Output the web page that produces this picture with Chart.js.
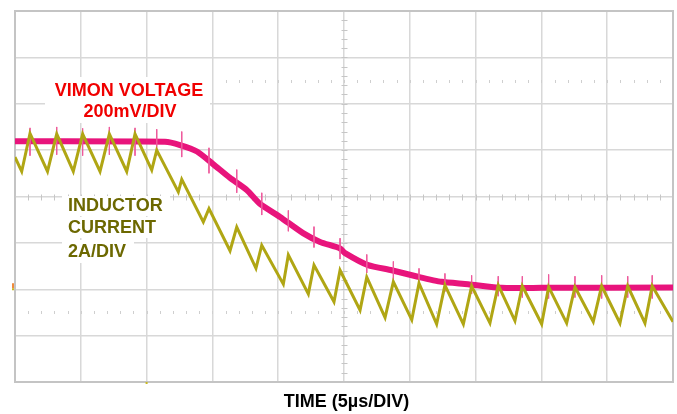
<!DOCTYPE html>
<html>
<head>
<meta charset="utf-8">
<script src="https://cdn.jsdelivr.net/npm/chart.js@4.4.1/dist/chart.umd.min.js"></script>
<style>
  html, body { margin: 0; padding: 0; background: #fff; }
  #wrap { width: 677px; height: 414px; }
</style>
</head>
<body>
<div id="wrap"><canvas id="scope"></canvas></div>
<script>
const inductorTime = [0, 0.51, 1.14, 2.47, 3.17, 4.43, 5.14, 6.46, 7.17, 8.49, 9.12, 10.39, 10.77,
  12.41, 12.67, 14.31, 14.74, 16.34, 16.85, 18.31, 18.75, 20.39, 20.77, 22.29, 22.72, 24.24, 24.70,
  26.22, 26.73, 28.12, 28.75, 30.15, 30.70, 32.04, 32.67, 34.07, 34.70, 36.09, 36.72, 37.99, 38.55,
  40.02, 40.55, 41.92, 42.55, 43.94, 44.58, 45.97, 46.56, 47.87, 48.42, 50];
const inductorDiv = [0.85, 0.54, 1.36, 0.54, 1.35, 0.54, 1.35, 0.54, 1.35, 0.54, 1.35, 0.57, 1.0,
  0.10, 0.37, -0.55, -0.26, -1.17, -0.66, -1.55, -1.05, -1.89, -1.26, -2.10, -1.48, -2.27, -1.59,
  -2.45, -1.74, -2.61, -1.84, -2.66, -1.87, -2.75, -1.91, -2.75, -1.93, -2.73, -1.91, -2.68, -1.93,
  -2.75, -1.95, -2.73, -1.95, -2.70, -1.93, -2.73, -1.93, -2.73, -1.93, -2.70];

const vimonTime = [0, 11.40, 12.54, 13.83, 15.05, 16.34, 17.61, 18.62, 20.14, 21.89, 23.18, 24.70,
  25.08, 26.83, 28.62, 30.62, 32.42, 34.42, 36.98, 40.0, 50];
const vimonDiv = [1.19, 1.18, 1.11, 0.97, 0.70, 0.40, 0.14, -0.16, -0.44, -0.79, -0.98, -1.12,
  -1.22, -1.48, -1.59, -1.73, -1.84, -1.89, -1.97, -1.97, -1.96];

// pics de commutation sur VIMON
const spikeTime = [1.14, 3.17, 5.14, 7.17, 9.12, 10.77, 12.67, 14.74, 16.85, 18.75, 20.77, 22.72,
  24.70, 26.73, 28.75, 30.70, 32.67, 34.70, 36.72, 38.55, 40.55, 42.55, 44.58, 46.56, 48.42];
const spikeTop = [1.48, 1.50, 1.47, 1.50, 1.48, 1.45, 1.40, 1.05, 0.58, 0.08, -0.30, -0.65,
  -0.90, -1.25, -1.40, -1.55, -1.66, -1.70, -1.72, -1.72, -1.68, -1.72, -1.70, -1.72, -1.70];
const spikeBottom = [0.88, 0.90, 0.88, 0.90, 0.88, 0.88, 0.85, 0.50, 0.08, -0.40, -0.75, -1.10,
  -1.35, -1.65, -1.80, -1.95, -2.05, -2.10, -2.15, -2.18, -2.20, -2.18, -2.20, -2.18, -2.20];

const xTicks = { min: 0, max: 50, step: 5 };   // 5µs/DIV, 10 divisions
const yTicks = { min: -4, max: 4, step: 1 };   // 8 divisions

const FONT = '"Liberation Sans", Arial, sans-serif';
const PINK = '#e8147c';
const OLIVE = '#b0a614';

const inductorPts = inductorTime.map((t, i) => ({ x: t, y: inductorDiv[i] }));
const vimonPts = vimonTime.map((t, i) => ({ x: t, y: vimonDiv[i] }));
const spikePts = [];
spikeTime.forEach((t, i) => {
  spikePts.push({ x: t, y: spikeTop[i] }, { x: t, y: spikeBottom[i] }, { x: t, y: null });
});

// === Plugin : cadre, réticule central, pointillés, textes ===
const scopeDecor = {
  id: 'scopeDecor',
  beforeDatasetsDraw(chart) {
    const { ctx, chartArea: a, scales: { x, y } } = chart;
    ctx.save();
    ctx.strokeStyle = '#c4c4c4';
    ctx.lineWidth = 2;
    ctx.strokeRect(a.left, a.top, a.right - a.left, a.bottom - a.top);

    const cx = Math.round(x.getPixelForValue(25)) + 0.5;
    const cy = Math.round(y.getPixelForValue(0)) + 0.5;
    ctx.strokeStyle = '#c6c6c6';
    ctx.lineWidth = 1;
    ctx.beginPath();
    for (let v = yTicks.min; v <= yTicks.max + 1e-6; v += 0.2) {
      const py = Math.round(y.getPixelForValue(v)) + 0.5;
      ctx.moveTo(cx - 3, py); ctx.lineTo(cx + 3, py);
    }
    for (let t = xTicks.min; t <= xTicks.max + 1e-6; t += 1) {
      const px = Math.round(x.getPixelForValue(t)) + 0.5;
      ctx.moveTo(px, cy - 3); ctx.lineTo(px, cy + 3);
    }
    ctx.stroke();

    // pointillés de curseur à ±2.5 div
    ctx.fillStyle = '#cfcfcf';
    [[2.5, 16], [-2.5, 1]].forEach(([v, start]) => {
      const py = Math.round(y.getPixelForValue(v));
      for (let t = start; t < xTicks.max; t += 1) {
        const px = Math.round(x.getPixelForValue(t));
        ctx.fillRect(px, py - 1, 1, 3);
      }
    });

    // marqueurs de masse / déclenchement
    ctx.fillStyle = '#f08a3c';
    ctx.fillRect(a.left - 3, y.getPixelForValue(-2) - 6, 2, 5);
    ctx.fillStyle = '#c8b820';
    ctx.fillRect(a.left - 3, y.getPixelForValue(-2) - 1, 2, 2);
    ctx.fillRect(x.getPixelForValue(10) - 1, a.bottom, 2, 2);
    ctx.restore();
  },
  afterDraw(chart) {
    const { ctx } = chart;
    ctx.save();
    ctx.font = 'bold 18px ' + FONT;
    ctx.textBaseline = 'middle';

    ctx.fillStyle = '#fff';
    ctx.fillRect(45, 77, 165, 46);
    ctx.fillStyle = '#f00000';
    ctx.textAlign = 'center';
    ctx.fillText('VIMON VOLTAGE', 129, 91);
    ctx.fillText('200mV/DIV', 130, 112);

    ctx.fillStyle = '#fff';
    ctx.fillRect(62, 196, 108, 20);
    ctx.fillRect(62, 217, 90, 21);
    ctx.fillRect(62, 240, 72, 23);
    ctx.fillStyle = '#6c6800';
    ctx.textAlign = 'left';
    ctx.fillText('INDUCTOR', 68, 206);
    ctx.fillText('CURRENT', 68, 228);
    ctx.fillText('2A/DIV', 68, 252);

    ctx.fillStyle = '#000';
    ctx.textAlign = 'center';
    ctx.fillText('TIME (5µs/DIV)', 346.5, 402);
    ctx.restore();
  }
};

const grid = { color: '#d8d8d8', lineWidth: 1.5, drawTicks: false };

new Chart(document.getElementById('scope'), {
  type: 'line',
  data: {
    datasets: [
      { label: 'Inductor current', data: inductorPts, borderColor: OLIVE, borderWidth: 3,
        pointRadius: 0, tension: 0, fill: false },
      { label: 'VIMON spikes', data: spikePts, borderColor: '#ee5a9c', borderWidth: 1,
        pointRadius: 0, spanGaps: false, fill: false },
      { label: 'VIMON voltage', data: vimonPts, borderColor: PINK, borderWidth: 6,
        pointRadius: 0, tension: 0.2, fill: false, borderJoinStyle: 'round' }
    ]
  },
  options: {
    responsive: true,
    maintainAspectRatio: false,
    animation: false,
    layout: { padding: { left: 15, top: 11, right: 4, bottom: 32 } },
    plugins: { legend: { display: false }, tooltip: { enabled: false } },
    scales: {
      x: { type: 'linear', min: xTicks.min, max: xTicks.max,
        ticks: { display: false, stepSize: xTicks.step }, grid: grid, border: { display: false } },
      y: { type: 'linear', min: yTicks.min, max: yTicks.max,
        ticks: { display: false, stepSize: yTicks.step }, grid: grid, border: { display: false } }
    }
  },
  plugins: [scopeDecor]
});
</script>
</body>
</html>
